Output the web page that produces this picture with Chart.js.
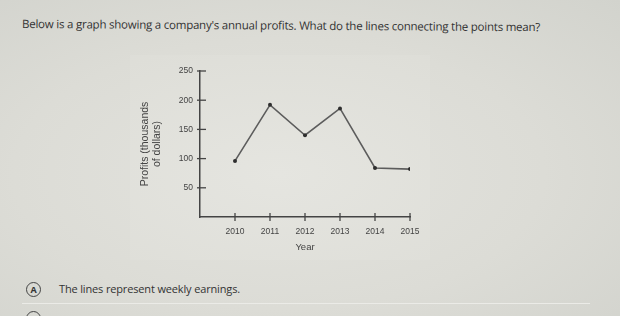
<!DOCTYPE html>
<html>
<head>
<meta charset="utf-8">
<script src="https://cdn.jsdelivr.net/npm/chart.js"></script>
<style>
  html, body { margin: 0; padding: 0; }
  body {
    width: 620px; height: 316px; overflow: hidden; position: relative;
    background: radial-gradient(ellipse at 45% 55%, #e3e3de 0%, #dcdcd6 55%, #d2d3cd 100%);
    font-family: "Open Sans", sans-serif; color: #333;
  }
  #question {
    position: absolute; left: 22px; top: 16px; font-size: 11.5px; letter-spacing: -0.22px;
    white-space: nowrap; transform: rotate(0.35deg); transform-origin: left center;
  }
  #chartBox { position: absolute; left: 130px; top: 55px; width: 300px; height: 205px; background: rgba(255,255,255,0.07); }
  .opt { position: absolute; left: 26px; width: 13px; height: 13px; border: 1.5px solid #444; border-radius: 50%;
         font-size: 9px; font-weight: bold; text-align: center; line-height: 13px; color: #333; }
  #optA { top: 282px; }
  #optB { top: 311px; }
  #optAText { position: absolute; left: 59px; top: 281px; font-size: 11px; letter-spacing: -0.15px; white-space: nowrap; }
  #sep { position: absolute; left: 22px; right: 30px; top: 303px; height: 1px; background: #ebebe7; }
</style>
</head>
<body>
<div id="question">Below is a graph showing a company's annual profits. What do the lines connecting the points mean?</div>
<div id="chartBox"><canvas id="chart" width="300" height="205"></canvas></div>
<div class="opt" id="optA">A</div>
<div id="optAText">The lines represent weekly earnings.</div>
<div id="sep"></div>
<div class="opt" id="optB"></div>
<script>
// chart values
const years = [2010, 2011, 2012, 2013, 2014, 2015];
const profits = [96, 192, 140, 186, 84, 82];
const yTicks = [50, 100, 150, 200, 250];
const yTitle = ["Profits (thousands", "of dollars)"];
const xTitle = "Year";

// tick marks that cross the axis lines
const crossTicks = {
  id: 'crossTicks',
  afterDraw(chart) {
    const {ctx, scales: {x, y}} = chart;
    ctx.save();
    ctx.strokeStyle = '#444';
    ctx.lineWidth = 1.3;
    yTicks.forEach(v => {
      const py = y.getPixelForValue(v);
      ctx.beginPath();
      ctx.moveTo(x.left - 3, py);
      ctx.lineTo(x.left + 6, py);
      ctx.stroke();
    });
    years.forEach(v => {
      const px = x.getPixelForValue(v);
      ctx.beginPath();
      ctx.moveTo(px, y.bottom - 4);
      ctx.lineTo(px, y.bottom + 4);
      ctx.stroke();
    });
    ctx.restore();
  }
};

new Chart(document.getElementById('chart'), {
  type: 'line',
  data: {
    datasets: [{
      data: years.map((yr, i) => ({x: yr, y: profits[i]})),
      borderColor: '#5c5c5c',
      borderWidth: 1.6,
      pointRadius: 2,
      pointBackgroundColor: '#2e2e2e',
      pointBorderWidth: 0,
      tension: 0
    }]
  },
  options: {
    responsive: false,
    devicePixelRatio: 1,
    animation: false,
    layout: { padding: { top: 16, right: 20, left: 0, bottom: 0 } },
    plugins: { legend: { display: false }, tooltip: { enabled: false } },
    scales: {
      x: {
        type: 'linear',
        min: 2009, max: 2015,
        afterFit(scale) { scale.height = 43; },
        afterBuildTicks(scale) { scale.ticks = years.map(v => ({value: v})); },
        grid: { display: false, drawTicks: false },
        border: { color: '#444', width: 1.5 },
        ticks: { color: '#444', font: { size: 8.5, family: 'Liberation Sans' }, padding: 10, maxRotation: 0, autoSkip: false, callback: v => String(v) },
        title: { display: true, text: xTitle, color: '#444', font: { size: 9.5, family: 'Liberation Sans' }, padding: { bottom: 7, top: 0 } }
      },
      y: {
        min: 0, max: 250,
        afterFit(scale) { scale.width = 70; },
        afterBuildTicks(scale) { scale.ticks = yTicks.map(v => ({value: v})); },
        grid: { display: false, drawTicks: false },
        border: { color: '#444', width: 1.5 },
        ticks: { color: '#444', font: { size: 8.5, family: 'Liberation Sans' }, padding: 7 },
        title: { display: true, text: yTitle, color: '#444', font: { size: 10.5, family: 'Liberation Sans', lineHeight: 1.15 }, padding: { top: 9, bottom: 0 } }
      }
    }
  },
  plugins: [crossTicks]
});
</script>
</body>
</html>
